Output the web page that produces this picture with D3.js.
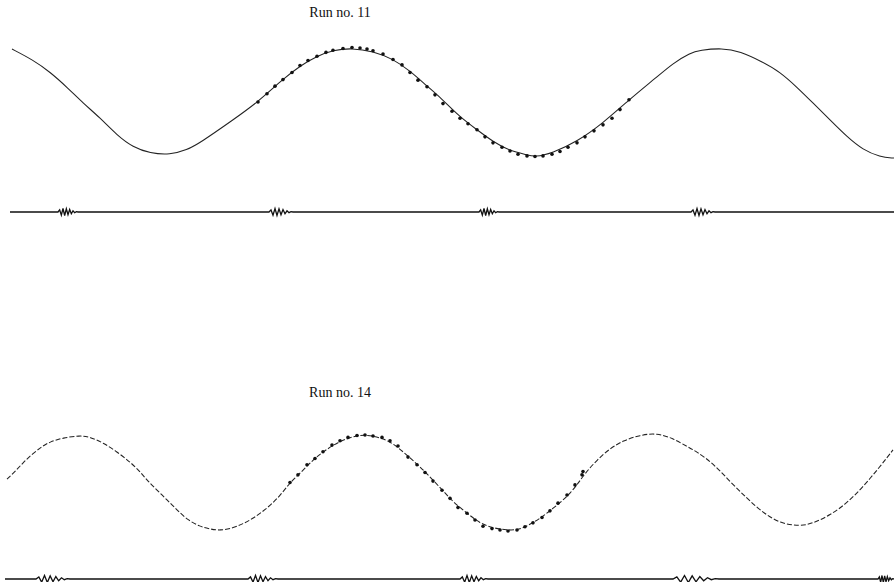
<!DOCTYPE html>
<html><head><meta charset="utf-8">
<script src="https://cdn.jsdelivr.net/npm/d3@7"></script>
<style>body{margin:0;background:#fff}svg{display:block}</style>
</head><body>
<script>
// ---- data (time in arbitrary units 0..89.4, amplitude normalised) ----
const runTitles = ["Run no. 11", "Run no. 14"];
const run11Line = [[1.2,0.98],[3.3,0.78],[5.0,0.56],[6.7,0.28],[8.3,-0.01],[10.0,-0.28],[11.7,-0.60],[13.3,-0.82],[15.0,-0.93],[17.0,-0.96],[18.7,-0.87],[20.0,-0.74],[23.3,-0.32],[25.8,0.01],[28.3,0.43],[30.0,0.67],[31.7,0.85],[33.3,0.96],[35.2,1.00],[37.3,0.94],[39.3,0.80],[41.0,0.58],[42.7,0.30],[44.0,0.10],[46.0,-0.27],[47.7,-0.50],[49.3,-0.72],[51.0,-0.89],[52.7,-0.96],[53.5,-1.00],[55.2,-0.93],[57.7,-0.72],[60.3,-0.38],[62.9,0.05],[65.7,0.47],[67.3,0.72],[69.0,0.91],[70.0,0.96],[72.2,1.00],[74.0,0.94],[76.3,0.74],[78.0,0.56],[79.7,0.28],[81.3,-0.01],[83.0,-0.32],[84.7,-0.63],[86.3,-0.87],[88.0,-1.00],[89.4,-1.02]];
const run11Dots = [[25.8,0.01],[26.7,0.16],[27.5,0.30],[28.3,0.42],[29.2,0.55],[30.0,0.68],[30.8,0.77],[31.7,0.85],[32.6,0.92],[33.3,0.96],[34.3,0.99],[35.2,1.01],[36.0,1.00],[36.7,0.98],[37.3,0.95],[38.3,0.89],[39.3,0.79],[40.2,0.69],[41.0,0.55],[41.8,0.41],[42.7,0.29],[43.5,0.14],[44.3,-0.02],[45.2,-0.16],[46.0,-0.29],[46.8,-0.39],[47.7,-0.50],[48.5,-0.63],[49.3,-0.74],[50.2,-0.82],[51.0,-0.89],[51.8,-0.95],[52.7,-0.98],[53.5,-0.99],[54.3,-0.98],[55.2,-0.95],[56.0,-0.90],[56.8,-0.82],[57.7,-0.74],[58.5,-0.63],[59.4,-0.52],[60.3,-0.41],[61.2,-0.29],[62.0,-0.13],[62.9,0.05]];
const run14Line = [[0.7,0.08],[1.5,0.24],[2.3,0.42],[3.2,0.60],[4.2,0.76],[5.0,0.86],[6.3,0.94],[8.0,0.99],[9.0,0.96],[10.3,0.84],[11.7,0.65],[13.0,0.44],[14.0,0.24],[14.7,0.06],[15.7,-0.15],[16.7,-0.35],[17.7,-0.56],[18.7,-0.76],[20.0,-0.91],[21.0,-0.96],[22.0,-0.99],[23.3,-0.94],[24.3,-0.85],[25.3,-0.74],[26.7,-0.53],[28.0,-0.27],[29.0,0.01],[30.0,0.20],[31.3,0.48],[32.3,0.65],[34.0,0.88],[35.7,0.99],[36.7,1.00],[38.0,0.95],[39.3,0.83],[40.7,0.58],[42.0,0.34],[43.3,0.06],[44.7,-0.25],[45.3,-0.39],[46.7,-0.63],[48.0,-0.84],[49.3,-0.94],[50.7,-0.98],[51.7,-0.98],[52.7,-0.90],[54.0,-0.74],[55.3,-0.53],[56.7,-0.29],[57.7,-0.04],[58.5,0.20],[59.7,0.48],[61.0,0.72],[62.3,0.88],[64.0,1.00],[65.7,1.04],[67.3,0.93],[68.7,0.76],[69.7,0.65],[71.3,0.41],[73.0,0.03],[74.7,-0.32],[76.3,-0.62],[78.0,-0.84],[80.0,-0.90],[81.3,-0.84],[83.0,-0.67],[84.7,-0.42],[86.3,-0.08],[88.0,0.34],[89.3,0.69]];
const run14Dots = [[29.0,0.01],[29.8,0.17],[30.7,0.38],[31.5,0.51],[32.3,0.65],[33.2,0.79],[34.0,0.88],[34.8,0.95],[35.7,0.99],[36.5,1.00],[37.3,0.98],[38.2,0.95],[39.0,0.88],[39.8,0.77],[40.8,0.54],[41.7,0.38],[42.5,0.22],[43.3,0.04],[44.2,-0.15],[45.0,-0.32],[45.8,-0.51],[46.7,-0.63],[47.5,-0.77],[48.3,-0.90],[49.2,-0.95],[50.0,-0.98],[50.8,-1.00],[51.7,-0.98],[52.5,-0.91],[53.3,-0.83],[54.2,-0.72],[55.0,-0.58],[55.8,-0.42],[56.7,-0.25],[57.5,-0.04],[58.2,0.17],[58.3,0.24]];
// baseline (lower trace) : extent, burst start times, burst widths, burst shape
const base11Range = [1.0, 89.4];
const base11Bursts = [5.8, 26.9, 47.9, 69.1];
const base11Widths = [2.0, 2.4, 2.0, 2.4];
const base14Range = [0.5, 89.4];
const base14Bursts = [3.6, 24.8, 46.0, 67.3, 87.8];
const base14Widths = [3.4, 3.0, 2.8, 4.6, 1.6];
const burstShape = [0, 0.6, -0.9, 1.0, -1.0, 0.9, -0.8, 0.7, -0.5, 0.35, -0.2, 0.1, 0];

// ---- drawing ----
const W = 894, H = 582;
const svg = d3.select("body").append("svg").attr("width", W).attr("height", H);
const x = d3.scaleLinear().domain([0, 89.4]).range([0, W]);

const panels = [
  {title: runTitles[0], titleY: 17, line: run11Line, dots: run11Dots, yr: [157, 48], dash: null,
   base: 212, range: base11Range, bursts: base11Bursts, widths: base11Widths},
  {title: runTitles[1], titleY: 397, line: run14Line, dots: run14Dots, yr: [531, 435], dash: "5,2",
   base: 579, range: base14Range, bursts: base14Bursts, widths: base14Widths}
];

panels.forEach(p => {
  const y = d3.scaleLinear().domain([-1, 1]).range(p.yr);
  const g = svg.append("g");
  g.append("text").attr("x", x(34)).attr("y", p.titleY).attr("text-anchor", "middle")
    .attr("font-family", "Liberation Serif, Times New Roman, serif").attr("font-size", 14)
    .attr("fill", "#111").text(p.title);
  const line = d3.line().x(d => x(d[0])).y(d => y(d[1])).curve(d3.curveBasis);
  g.append("path").datum(p.line).attr("d", line).attr("fill", "none")
    .attr("stroke", "#222").attr("stroke-width", 1.05)
    .attr("stroke-dasharray", p.dash);
  g.selectAll("circle").data(p.dots).join("circle")
    .attr("cx", d => x(d[0])).attr("cy", d => y(d[1])).attr("r", 1.8).attr("fill", "#111");
  // baseline trace
  const yb = d3.scaleLinear().domain([-1, 1]).range([p.base + 3.5, p.base - 3.5]);
  const pts = [[p.range[0], 0]];
  p.bursts.forEach((b, i) => {
    const w = p.widths[i];
    burstShape.forEach((v, k) => pts.push([b + w * k / (burstShape.length - 1), v]));
  });
  pts.push([p.range[1], 0]);
  const bl = d3.line().x(d => x(d[0])).y(d => yb(d[1]));
  g.append("path").datum(pts).attr("d", bl).attr("fill", "none")
    .attr("stroke", "#111").attr("stroke-width", 1.3);
});
</script>
</body></html>
